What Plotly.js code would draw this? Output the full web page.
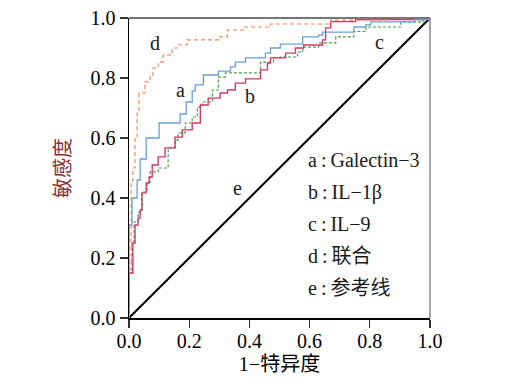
<!DOCTYPE html>
<html><head><meta charset="utf-8">
<script src="https://cdn.plot.ly/plotly-3.0.1.min.js"></script>
<style>html,body{margin:0;padding:0;background:#fff}#c{width:505px;height:386px}</style>
</head><body><div id="c"></div>
<script>
// Galectin-3 (a)
const aX=[0,0,0.01,0.027,0.037,0.057,0.1,0.17,0.19,0.21,0.22,0.247,0.297,0.337,0.353,0.387,0.453,0.47,0.503,0.577,0.63,0.643,0.747,0.787,0.803,0.95,1];
const aY=[0,0.31,0.40,0.46,0.53,0.60,0.65,0.68,0.72,0.757,0.777,0.81,0.823,0.837,0.853,0.867,0.883,0.9,0.913,0.937,0.943,0.953,0.97,0.977,0.987,0.995,1];
// IL-1beta (b)
const bX=[0,0,0.013,0.02,0.03,0.037,0.043,0.057,0.067,0.077,0.097,0.12,0.153,0.177,0.21,0.237,0.263,0.303,0.327,0.353,0.387,0.437,0.46,0.47,0.52,0.553,0.58,0.643,0.653,0.67,0.753,0.98,1];
const bY=[0,0.15,0.25,0.31,0.333,0.36,0.417,0.45,0.47,0.51,0.537,0.567,0.603,0.627,0.65,0.71,0.733,0.75,0.76,0.783,0.797,0.827,0.85,0.867,0.883,0.9,0.91,0.927,0.967,0.988,0.995,1,1];
// IL-9 (c)
const cX=[0,0,0.01,0.017,0.03,0.043,0.06,0.07,0.097,0.13,0.153,0.163,0.187,0.21,0.227,0.243,0.277,0.297,0.32,0.437,0.48,0.503,0.56,0.577,0.63,0.687,0.747,0.787,0.903,0.977,1];
const cY=[0,0.15,0.253,0.32,0.353,0.42,0.453,0.487,0.5,0.567,0.593,0.617,0.65,0.67,0.703,0.72,0.76,0.803,0.817,0.853,0.867,0.87,0.887,0.903,0.917,0.937,0.955,0.97,0.987,1,1];
// 联合 (d)
const dX=[0,0,0.007,0.013,0.02,0.027,0.033,0.053,0.07,0.08,0.097,0.113,0.143,0.163,0.193,0.3,0.327,0.38,0.47,0.67,0.85,1];
const dY=[0,0.15,0.45,0.5,0.6,0.69,0.75,0.787,0.81,0.833,0.853,0.877,0.9,0.91,0.927,0.937,0.96,0.97,0.98,0.993,1,1];
// 参考线 (e)
const eX=[0,1];
const eY=[0,1];

const curveLabels=['a','b','c','d','e'];
const labelX=[0.17,0.403,0.833,0.087,0.36];
const labelY=[0.76,0.74,0.92,0.917,0.433];
const legendText=['a\u2009:\u2009Galectin−3','b\u2009:\u2009IL−1β','c\u2009:\u2009IL−9','d\u2009:\u2009联合','e\u2009:\u2009参考线'];
const legendY=[0.527,0.42,0.313,0.207,0.1];
const xTicks=[0,0.2,0.4,0.6,0.8,1.0];
const xTickText=['0.0','0.2','0.4','0.6','0.8','1.0'];

const FONT='"Liberation Serif","Times New Roman","Noto Sans CJK SC",serif';
const traces=[
 {x:eX,y:eY,mode:'lines',line:{color:'#000',width:2},hoverinfo:'skip'},
 {x:cX,y:cY,mode:'lines',line:{color:'#4f9a4f',width:1.2,dash:'3px,2px',shape:'hv'}},
 {x:bX,y:bY,mode:'lines',line:{color:'#d23a68',width:1.4,shape:'hv'}},
 {x:aX,y:aY,mode:'lines',line:{color:'#6a9fd8',width:1.3,shape:'hv'}},
 {x:dX,y:dY,mode:'lines',line:{color:'#f08a5a',width:1.2,dash:'4px,3px',shape:'hv'}}
];
const ann=[];
for(let i=0;i<curveLabels.length;i++){
 ann.push({x:labelX[i],y:labelY[i],xref:'x',yref:'y',text:curveLabels[i],showarrow:false,font:{family:FONT,size:20,color:'#1a1a1a'}});
}
for(let i=0;i<legendText.length;i++){
 ann.push({x:0.587,y:legendY[i],xref:'x',yref:'y',xanchor:'left',text:legendText[i],showarrow:false,font:{family:FONT,size:20,color:'#1a1a1a'}});
}
const layout={
 width:505,height:386,showlegend:false,
 margin:{l:129,r:75,t:18,b:68},
 paper_bgcolor:'#fff',plot_bgcolor:'#fff',
 font:{family:FONT,size:20,color:'#000'},
 xaxis:{range:[0,1],tickvals:xTicks,ticktext:xTickText,showgrid:false,zeroline:false,showline:true,linecolor:'#000',linewidth:1.5,ticks:'outside',ticklen:8,tickwidth:1.2,tickcolor:'#333',ticklabelstandoff:-4,tickfont:{family:FONT,size:20,color:'#000'},
  title:{text:'1−特异度',font:{family:FONT,size:20,color:'#000'},standoff:6}},
 yaxis:{range:[0,1],tickvals:xTicks,ticktext:xTickText,showgrid:false,zeroline:false,showline:true,linecolor:'#000',linewidth:1.5,ticks:'outside',ticklen:8,tickwidth:1.2,tickcolor:'#333',tickfont:{family:FONT,size:20,color:'#000'},
  title:{text:'敏感度',font:{family:FONT,size:20,color:'#8a2f2f'},standoff:14}},
 shapes:[
  {type:'line',xref:'paper',yref:'paper',x0:0,x1:1,y0:1,y1:1,line:{color:'#777',width:2}},
  {type:'line',xref:'paper',yref:'paper',x0:1,x1:1,y0:0,y1:1,line:{color:'#888',width:1.5}}
 ],
 annotations:ann
};
Plotly.newPlot('c',traces,layout,{displayModeBar:false,staticPlot:true});
</script></body></html>
